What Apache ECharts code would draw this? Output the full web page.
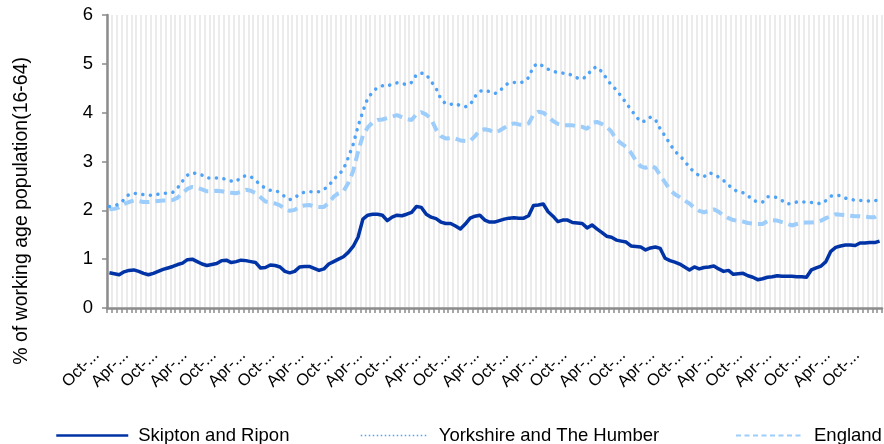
<!DOCTYPE html>
<html>
<head>
<meta charset="utf-8">
<style>
  html, body { margin: 0; padding: 0; background: #fff; }
  #chart { width: 884px; height: 444px; }
</style>
<script src="https://cdn.jsdelivr.net/npm/echarts@6/dist/echarts.min.js"></script>
</head>
<body>
<div id="chart"></div>
<script>
// months run Oct-04 .. Dec-17, one point per month
const monthNames = ['Jan', 'Feb', 'Mar', 'Apr', 'May', 'Jun', 'Jul', 'Aug', 'Sep', 'Oct', 'Nov', 'Dec'];
const startYear = 2004;
const startMonth = 9; // October
const monthCount = 159;

const skipton = [
  0.72, 0.70, 0.68, 0.74, 0.77, 0.78, 0.75, 0.71, 0.68, 0.71,
  0.75, 0.79, 0.82, 0.85, 0.89, 0.92, 0.99, 1.00, 0.95, 0.90,
  0.87, 0.89, 0.91, 0.97, 0.98, 0.93, 0.95, 0.98, 0.97, 0.95,
  0.93, 0.82, 0.83, 0.88, 0.87, 0.84, 0.75, 0.72, 0.75, 0.84,
  0.85, 0.85, 0.81, 0.77, 0.80, 0.90, 0.95, 1.00, 1.05, 1.14,
  1.26, 1.45, 1.82, 1.90, 1.92, 1.92, 1.90, 1.79, 1.86, 1.90,
  1.89, 1.92, 1.96, 2.08, 2.06, 1.92, 1.86, 1.83, 1.76, 1.73,
  1.73, 1.68, 1.62, 1.72, 1.84, 1.88, 1.90, 1.80, 1.76, 1.76,
  1.79, 1.82, 1.84, 1.85, 1.84, 1.84, 1.89, 2.10, 2.11, 2.13,
  1.97, 1.88, 1.77, 1.80, 1.80, 1.75, 1.74, 1.73, 1.64, 1.70,
  1.62, 1.55, 1.47, 1.45, 1.39, 1.37, 1.35, 1.27, 1.26, 1.25,
  1.19, 1.23, 1.25, 1.22, 1.02, 0.97, 0.94, 0.90, 0.84, 0.78,
  0.84, 0.80, 0.83, 0.84, 0.86, 0.80, 0.75, 0.77, 0.69, 0.70,
  0.71, 0.66, 0.63, 0.58, 0.60, 0.63, 0.64, 0.66, 0.65, 0.65,
  0.65, 0.64, 0.64, 0.63, 0.78, 0.82, 0.86, 0.95, 1.16, 1.24,
  1.27, 1.29, 1.29, 1.28, 1.33, 1.33, 1.34, 1.34, 1.37
];

const yorkshire = [
  2.08, 2.09, 2.13, 2.22, 2.33, 2.35, 2.34, 2.32, 2.31, 2.31,
  2.33, 2.35, 2.35, 2.37, 2.46, 2.60, 2.72, 2.77, 2.75, 2.72,
  2.66, 2.66, 2.66, 2.66, 2.63, 2.60, 2.59, 2.68, 2.71, 2.69,
  2.61, 2.52, 2.45, 2.41, 2.41, 2.36, 2.28, 2.22, 2.25, 2.34,
  2.37, 2.38, 2.38, 2.38, 2.43, 2.50, 2.64, 2.72, 2.84, 3.08,
  3.35, 3.72, 4.03, 4.30, 4.42, 4.52, 4.55, 4.54, 4.59, 4.61,
  4.60, 4.57, 4.62, 4.78, 4.81, 4.78, 4.64, 4.50, 4.28, 4.18,
  4.17, 4.19, 4.14, 4.12, 4.16, 4.33, 4.44, 4.46, 4.43, 4.39,
  4.43, 4.55, 4.61, 4.62, 4.61, 4.63, 4.72, 4.95, 5.01, 4.95,
  4.89, 4.85, 4.82, 4.81, 4.80, 4.76, 4.71, 4.69, 4.75, 4.90,
  4.94, 4.84, 4.70, 4.56, 4.47, 4.33, 4.20, 4.06, 3.93, 3.81,
  3.83, 3.91, 3.86, 3.67, 3.52, 3.36, 3.21, 3.12, 3.01, 2.88,
  2.78, 2.71, 2.69, 2.77, 2.74, 2.68, 2.61, 2.52, 2.43, 2.38,
  2.36, 2.30, 2.21, 2.17, 2.17, 2.28, 2.28, 2.26, 2.20, 2.13,
  2.14, 2.17, 2.17, 2.17, 2.16, 2.15, 2.13, 2.20, 2.29, 2.31,
  2.30, 2.25, 2.22, 2.21, 2.20, 2.20, 2.19, 2.19, 2.24
];

const england = [
  2.02, 2.03, 2.06, 2.13, 2.17, 2.20, 2.19, 2.17, 2.17, 2.18,
  2.19, 2.20, 2.20, 2.21, 2.26, 2.35, 2.44, 2.48, 2.46, 2.43,
  2.39, 2.39, 2.40, 2.39, 2.37, 2.36, 2.35, 2.38, 2.42, 2.40,
  2.35, 2.27, 2.18, 2.16, 2.14, 2.10, 2.03, 1.99, 2.01, 2.07,
  2.10, 2.11, 2.08, 2.07, 2.07, 2.15, 2.28, 2.35, 2.39, 2.56,
  2.80, 3.20, 3.53, 3.70, 3.80, 3.85, 3.86, 3.89, 3.92, 3.95,
  3.91, 3.87, 3.85, 3.97, 4.01, 3.96, 3.87, 3.66, 3.52, 3.47,
  3.48, 3.47, 3.43, 3.42, 3.42, 3.52, 3.64, 3.66, 3.64, 3.59,
  3.63, 3.69, 3.75, 3.78, 3.76, 3.75, 3.78, 3.96, 4.02, 4.00,
  3.92, 3.83, 3.77, 3.74, 3.74, 3.74, 3.72, 3.71, 3.67, 3.79,
  3.81, 3.77, 3.71, 3.61, 3.45, 3.37, 3.30, 3.18, 3.02, 2.90,
  2.87, 2.92, 2.87, 2.72, 2.57, 2.42, 2.33, 2.27, 2.20, 2.14,
  2.05, 1.99, 1.96, 1.99, 2.02, 1.97, 1.90, 1.84, 1.80, 1.79,
  1.77, 1.74, 1.73, 1.72, 1.72, 1.78, 1.80, 1.79, 1.76, 1.73,
  1.69, 1.72, 1.74, 1.75, 1.75, 1.76, 1.79, 1.84, 1.88, 1.92,
  1.91, 1.90, 1.89, 1.88, 1.88, 1.87, 1.86, 1.86, 1.93
];

const months = [];
for (let i = 0; i < monthCount; i++) {
  const m = (startMonth + i) % 12;
  const y = startYear + Math.floor((startMonth + i) / 12);
  months.push(monthNames[m] + '-' + String(y).slice(2));
}

const font = 'Liberation Sans, Arial, sans-serif';
const fontSize = 18.5;
const axisGrey = '#8c8c8c';

const chart = echarts.init(document.getElementById('chart'));

// one legend per series so each can sit where the original puts it
const legendBase = {
  top: 421,
  itemWidth: 72,
  itemHeight: 20,
  itemStyle: { opacity: 0 },
  textStyle: { fontFamily: font, fontSize: fontSize, color: '#000', padding: [0, 0, 0, 5] },
  selectedMode: false
};

chart.setOption({
  animation: false,
  textStyle: { fontFamily: font },
  grid: { left: 107, right: 2, top: 15, bottom: 136 },
  legend: [
    Object.assign({}, legendBase, {
      left: 50,
      data: [{ name: 'Skipton and Ripon', lineStyle: { width: 2.5 } }]
    }),
    Object.assign({}, legendBase, {
      left: 355,
      itemWidth: 68,
      data: [{ name: 'Yorkshire and The Humber', lineStyle: { width: 1.5, type: [1.5, 2.5], cap: 'butt' } }]
    }),
    Object.assign({}, legendBase, {
      left: 730,
      itemWidth: 68,
      data: [{ name: 'England', lineStyle: { width: 2, type: [5, 3.5], cap: 'butt' } }]
    })
  ],
  graphic: [{
    type: 'text',
    left: 12,
    top: 57,
    rotation: Math.PI / 2,
    style: {
      text: '% of working age population(16-64)',
      fontFamily: font,
      fontSize: 19.5,
      fill: '#000'
    }
  }],
  xAxis: {
    type: 'category',
    data: months,
    boundaryGap: true,
    axisLine: { lineStyle: { color: axisGrey, width: 2.5 } },
    axisTick: { show: true, interval: 0, length: 5, lineStyle: { color: axisGrey, width: 1.5 } },
    splitLine: { show: true, interval: 0, lineStyle: { color: '#ebebeb', width: 2 } },
    axisLabel: {
      interval: 5,
      rotate: 45,
      margin: 32,
      padding: [0, 18, 0, 0],
      fontFamily: font,
      fontSize: 16.5,
      color: '#000',
      formatter: v => v.slice(0, 4) + '...'
    }
  },
  yAxis: {
    type: 'value',
    min: 0,
    max: 6,
    interval: 1,
    axisLine: { show: true, lineStyle: { color: axisGrey, width: 2.5 } },
    axisTick: { show: true, length: 5, lineStyle: { color: axisGrey, width: 1.5 } },
    splitLine: { show: false },
    axisLabel: { margin: 14, fontFamily: font, fontSize: fontSize, color: '#000' }
  },
  series: [
    {
      name: 'Skipton and Ripon',
      type: 'line',
      data: skipton,
      symbol: 'none',
      z: 4,
      itemStyle: { color: '#0033a6' },
      lineStyle: { color: '#0033a6', width: 3.5, join: 'round' }
    },
    {
      name: 'Yorkshire and The Humber',
      type: 'line',
      data: yorkshire,
      symbol: 'none',
      z: 3,
      itemStyle: { color: '#4fa3f7' },
      lineStyle: { color: '#4fa3f7', width: 3.5, type: [0.1, 7.5], cap: 'round' }
    },
    {
      name: 'England',
      type: 'line',
      data: england,
      symbol: 'none',
      z: 2,
      itemStyle: { color: '#9dcdfb' },
      lineStyle: { color: '#9dcdfb', width: 4, type: [10, 6], cap: 'butt' }
    }
  ]
});
</script>
</body>
</html>
